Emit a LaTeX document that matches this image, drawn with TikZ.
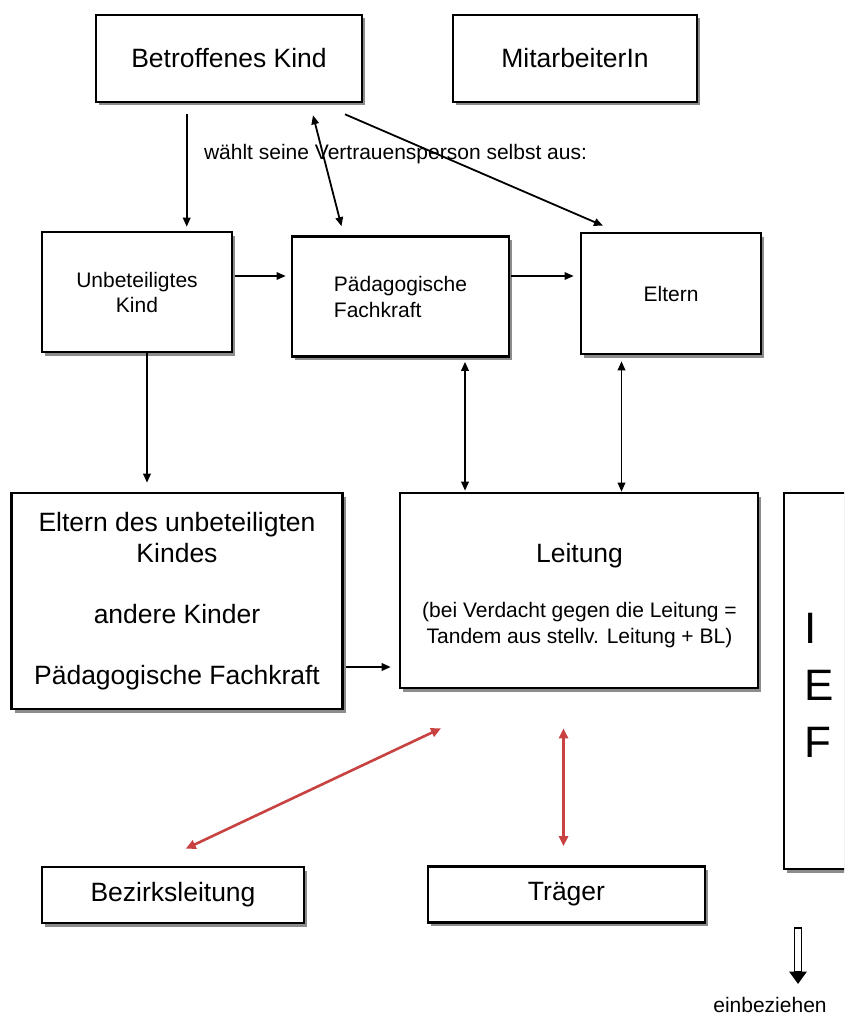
\documentclass[tikz,border=0pt]{standalone}
\usepackage{fontspec}
\setmainfont{Liberation Sans}
\usetikzlibrary{arrows.meta,shadows}
\definecolor{redarrow}{RGB}{200,66,66}
\newcommand{\bigtxt}{\fontsize{26.5}{30.5}\selectfont}
\newcommand{\smalltxt}{\fontsize{21}{25}\selectfont}
\newcommand{\ieftxt}{\fontsize{44}{57}\selectfont}
\tikzset{
  box/.style={draw=black, line width=2.6pt, fill=white, inner sep=0pt, align=center,
    drop shadow={shadow xshift=3pt, shadow yshift=-3.5pt, fill=black, opacity=0.45}},
  conn/.style={draw=black, line width=1.8pt},
  connthin/.style={draw=black, line width=1.3pt},
  redconn/.style={draw=redarrow, line width=2.6pt},
  onetip/.style={-{Triangle[length=9pt,width=7.5pt]}},
  bothtips/.style={{Triangle[length=9pt,width=7.5pt]}-{Triangle[length=9pt,width=7.5pt]}},
  redtips/.style={{Triangle[length=10pt,width=9pt]}-{Triangle[length=10pt,width=9pt]}},
  plaintext/.style={inner sep=0pt, anchor=base},
  hollowshaft/.style={draw=black, line width=1.4pt, fill=white},
  hollowhead/.style={draw=black, line width=1pt, fill=black, line join=miter},
}
\begin{document}
\begin{tikzpicture}[x=1pt,y=-1pt]
\useasboundingbox (0,0) rectangle (844,1016);
\fill[white] (0,0) rectangle (844,1016);
\clip (0,0) rectangle (844,1016);

% boxes
\node[box, font=\bigtxt, minimum width=266pt, minimum height=87pt] (bk) at (229,58.5) {Betroffenes Kind};
\node[box, font=\bigtxt, minimum width=244pt, minimum height=87pt] (mit) at (575,58.5) {MitarbeiterIn};
\node[box, font=\smalltxt, minimum width=190pt, minimum height=120pt] (uk) at (137,292) {Unbeteiligtes\\Kind};
\node[box, font=\fontsize{21}{26}\selectfont, align=left, minimum width=217pt, minimum height=120pt] (pf) at (400.5,296.5) {Pädagogische\\Fachkraft};
\node[box, font=\smalltxt, minimum width=180pt, minimum height=121pt] (el) at (671,293.5) {Eltern};
\node[box, font=\bigtxt, minimum width=331pt, minimum height=216pt] (eu) at (177,601) {Eltern des unbeteiligten\\Kindes\\[30.5pt]andere Kinder\\[30.5pt]Pädagogische Fachkraft};
\node[box, minimum width=358pt, minimum height=195pt] (lt) at (579,590.5) {};
\node[plaintext, font=\bigtxt] (ltA) at ([shift={(0.5,-28.5)}]lt.center) {Leitung};
\node[plaintext, font=\smalltxt] (ltB) at ([shift={(0.5,26.5)}]lt.center) {(bei Verdacht gegen die Leitung =};
\node[plaintext, font=\smalltxt] (ltC) at ([shift={(0.5,52.5)}]lt.center) {Tandem aus stellv. Leitung + BL)};
\node[box, minimum width=78pt, minimum height=376pt] (ief) at (823,681) {};
\node[inner sep=0pt, font=\ieftxt, align=left] (iefT) at (819.5,685) {I\\E\\F};
\node[box, font=\bigtxt, minimum width=262pt, minimum height=56pt] (bz) at (173,895) {Bezirksleitung};
\node[box, font=\bigtxt, minimum width=277pt, minimum height=56pt] (tr) at (566.5,894.5) {Träger};

% label
\node[plaintext, font=\smalltxt] (lbl) at (395.5,160) {wählt seine Vertrauensperson selbst aus:};

% black connectors
\draw[conn, onetip] ([shift={(-42.3,11)}]bk.south) -- ([shift={(49.7,-4)}]uk.north);
\draw[conn, bothtips] ([shift={(84,12)}]bk.south) -- ([shift={(-59,-9)}]pf.north);
\draw[conn, onetip] ([shift={(116,11)}]bk.south) -- ([shift={(-68,-6)}]el.north);
\draw[connthin, onetip] ([shift={(2,-16)}]uk.east) -- ([shift={(-5,-20.5)}]pf.west);
\draw[connthin, onetip] ([shift={(1,-20.5)}]pf.east) -- ([shift={(-6,-17.5)}]el.west);
\draw[conn, onetip] ([shift={(10,0)}]uk.south) -- ([shift={(-30,-9)}]eu.north);
\draw[conn, bothtips] ([shift={(64.5,4)}]pf.south) -- ([shift={(-114,-1)}]lt.north);
\draw[conn, bothtips] ([shift={(-49.5,6)}]el.south) -- ([shift={(42.5,0)}]lt.north);
\draw[conn, onetip] ([shift={(2,66)}]eu.east) -- ([shift={(-8,76.5)}]lt.west);

% red connectors
\draw[redconn, redtips] ([shift={(-138,39)}]lt.south) -- ([shift={(12.7,-17)}]bz.north);
\draw[redconn, redtips] ([shift={(-15.5,39)}]lt.south) -- ([shift={(-3,-19)}]tr.north);

% outline down arrow and its caption
\coordinate (dA) at (798,928);
\coordinate (dB) at (798,983);
\draw[hollowshaft] ([shift={(-3.5,0)}]dA) rectangle ([shift={(3.5,-11)}]dB);
\fill[hollowhead] ([shift={(-8,-11)}]dB) -- ([shift={(8,-11)}]dB) -- (dB) -- cycle;
\node[plaintext, font=\smalltxt] (einb) at (770,1012) {einbeziehen};
\end{tikzpicture}
\end{document}
